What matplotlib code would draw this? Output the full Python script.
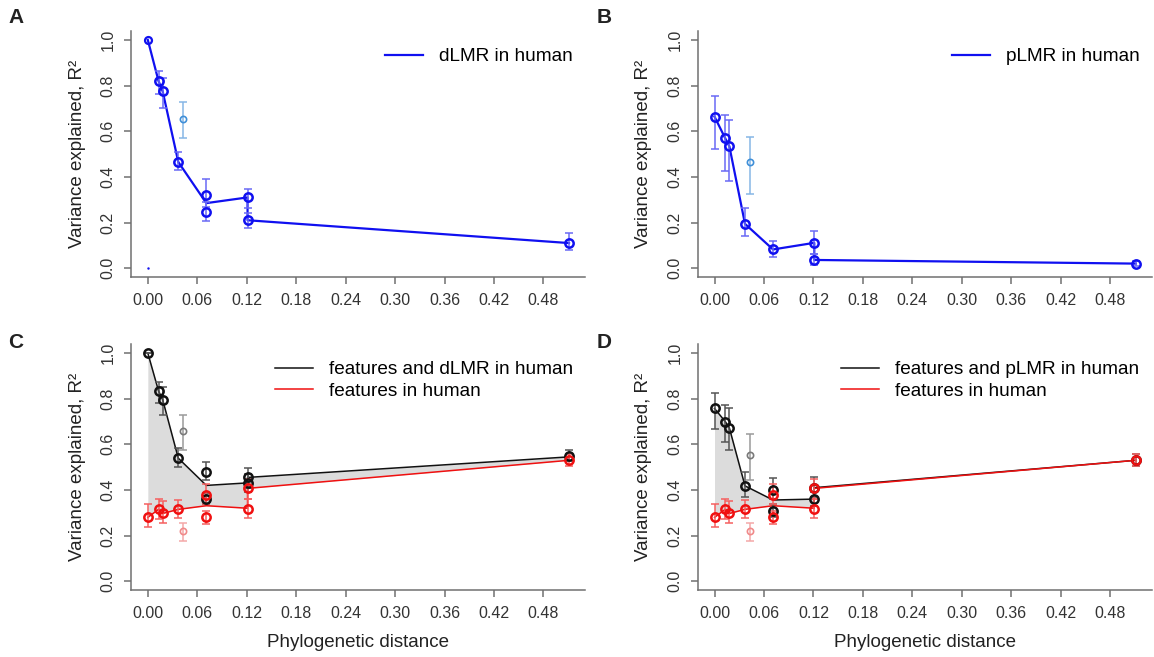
import numpy as np
import matplotlib
matplotlib.use("Agg")
import matplotlib.pyplot as plt

plt.rcParams['font.family'] = ['Liberation Sans', 'DejaVu Sans']

# ---- data ----
# panel A: dLMR in human
a_x = [0.0, 0.013, 0.018, 0.037, 0.071, 0.071, 0.121, 0.121, 0.511]
a_y = [1.0, 0.82, 0.775, 0.465, 0.32, 0.245, 0.31, 0.21, 0.11]
a_lo = [1.0, 0.765, 0.70, 0.43, 0.27, 0.205, 0.265, 0.175, 0.08]
a_hi = [1.0, 0.865, 0.835, 0.51, 0.39, 0.29, 0.345, 0.24, 0.155]
a_line_x = [0.0, 0.013, 0.018, 0.037, 0.071, 0.121, 0.121, 0.511]
a_line_y = [1.0, 0.82, 0.775, 0.465, 0.285, 0.31, 0.21, 0.11]
a_out = [0.043, 0.655, 0.57, 0.73]   # x, y, lo, hi

# panel B: pLMR in human
b_x = [0.0, 0.013, 0.018, 0.037, 0.071, 0.121, 0.121, 0.511]
b_y = [0.664, 0.569, 0.534, 0.194, 0.082, 0.111, 0.036, 0.02]
b_lo = [0.52, 0.424, 0.38, 0.139, 0.048, 0.061, 0.013, 0.008]
b_hi = [0.756, 0.672, 0.649, 0.263, 0.121, 0.161, 0.061, 0.032]
b_out = [0.043, 0.464, 0.326, 0.573]

# panel C: features and dLMR in human
c_x = [0.0, 0.013, 0.018, 0.037, 0.071, 0.071, 0.121, 0.121, 0.511]
c_y = [1.0, 0.834, 0.796, 0.539, 0.48, 0.359, 0.431, 0.455, 0.548]
c_lo = [1.0, 0.779, 0.729, 0.499, 0.443, 0.338, 0.392, 0.41, 0.525]
c_hi = [1.0, 0.875, 0.851, 0.586, 0.523, 0.385, 0.47, 0.496, 0.575]
c_line_y = [1.0, 0.834, 0.796, 0.539, 0.42, 0.431, 0.455, 0.545]
c_out = [0.043, 0.659, 0.574, 0.729]

# panel D: features and pLMR in human
d_y = [0.757, 0.70, 0.672, 0.418, 0.402, 0.309, 0.36, 0.41, 0.53]
d_lo = [0.669, 0.611, 0.576, 0.369, 0.36, 0.28, 0.33, 0.37, 0.505]
d_hi = [0.824, 0.773, 0.758, 0.477, 0.453, 0.34, 0.39, 0.455, 0.558]
d_line_y = [0.757, 0.70, 0.672, 0.418, 0.356, 0.36, 0.41, 0.53]
d_out = [0.043, 0.553, 0.443, 0.646]

# features in human (C and D)
f_y = [0.28, 0.315, 0.297, 0.315, 0.379, 0.28, 0.316, 0.407, 0.53]
f_lo = [0.236, 0.273, 0.256, 0.276, 0.34, 0.25, 0.276, 0.36, 0.505]
f_hi = [0.337, 0.359, 0.353, 0.354, 0.426, 0.31, 0.36, 0.45, 0.558]
f_line_y = [0.28, 0.315, 0.297, 0.315, 0.331, 0.32, 0.407, 0.53]
f_out = [0.043, 0.221, 0.178, 0.254]

line_x = [0.0, 0.013, 0.018, 0.037, 0.071, 0.121, 0.121, 0.511]

xticks = np.arange(0, 0.49, 0.06)
yticks = np.arange(0, 1.01, 0.2)

BLUE = '#1010f0'
RED = '#f01010'
BLACK = '#111111'


def points(ax, x, y, lo, hi, col, barcol, ms=6, mew=1.8):
    x = np.asarray(x); y = np.asarray(y)
    err = [y - np.asarray(lo), np.asarray(hi) - y]
    ax.errorbar(x, y, yerr=err, fmt='none', ecolor=barcol, elinewidth=1.1,
                capsize=3.2, capthick=1.1, zorder=4)
    ax.plot(x, y, 'o', mfc='none', mec=col, ms=ms, mew=mew, zorder=5)


def outlier(ax, o, col, barcol):
    points(ax, [o[0]], [o[1]], [o[2]], [o[3]], col, barcol, ms=4.5, mew=1.2)


def style(ax, xlabel=False):
    ax.set_xlim(-0.0204, 0.5304)
    ax.set_ylim(-0.04, 1.04)
    for s in ['top', 'right']:
        ax.spines[s].set_visible(False)
    for s in ['left', 'bottom']:
        ax.spines[s].set_color('#707070')
        ax.spines[s].set_linewidth(1.1)
    ax.set_xticks(xticks)
    ax.set_xticklabels(['%.2f' % t for t in xticks])
    ax.set_yticks(yticks)
    ax.set_yticklabels(['%.1f' % t for t in yticks], rotation=90, va='center')
    ax.tick_params(direction='out', length=5, width=1.1, color='#707070',
                   labelcolor='#333333', labelsize=11.5, pad=6)
    ax.set_ylabel('Variance explained, R²', fontsize=13.5, color='#222222')
    ax.yaxis.set_label_coords(-0.1, 0.5)
    if xlabel:
        ax.set_xlabel('Phylogenetic distance', fontsize=13.5, color='#222222')
        ax.xaxis.set_label_coords(0.5, -0.175)
        ax.xaxis.label.set_va('top')


def legend(ax):
    ax.legend(loc='upper right', bbox_to_anchor=(1.0 + 5 / 454, 1.0), frameon=False,
              fontsize=13.7, handlelength=2.0, handletextpad=0.85,
              labelspacing=0.22, borderaxespad=0.5)


fig = plt.figure(figsize=(11.54, 6.57), dpi=100)
W, H = 454 / 1154, 246.5 / 657
axA = fig.add_axes([131 / 1154, 1 - 277.3 / 657, W, H])
axB = fig.add_axes([697.7 / 1154, 1 - 277.3 / 657, W, H])
axC = fig.add_axes([131 / 1154, 1 - 590.4 / 657, W, H])
axD = fig.add_axes([697.7 / 1154, 1 - 590.4 / 657, W, H])

# A
axA.plot(a_line_x, a_line_y, color=BLUE, lw=1.6, label='dLMR in human', zorder=3)
points(axA, a_x[1:], a_y[1:], a_lo[1:], a_hi[1:], BLUE, '#6a6af5')
axA.plot([a_x[0]], [a_y[0]], 'o', mfc='none', mec=BLUE, ms=5, mew=1.6, zorder=5)
axA.plot([0.0], [0.0], '.', color=BLUE, ms=1.5)
outlier(axA, a_out, '#3f8fd8', '#86b6e6')
style(axA)
legend(axA)

# B
axB.plot(b_x, b_y, color=BLUE, lw=1.6, label='pLMR in human', zorder=3)
points(axB, b_x, b_y, b_lo, b_hi, BLUE, '#6a6af5')
outlier(axB, b_out, '#3f8fd8', '#86b6e6')
style(axB)
legend(axB)

# C
axC.fill_between(line_x, c_line_y, f_line_y, color='#dcdcdc', lw=0, zorder=1)
axC.plot(line_x, c_line_y, color=BLACK, lw=1.1, label='features and dLMR in human', zorder=3)
axC.plot(line_x, f_line_y, color=RED, lw=1.1, label='features in human', zorder=3)
points(axC, c_x, c_y, c_lo, c_hi, BLACK, '#555555')
points(axC, c_x, f_y, f_lo, f_hi, RED, '#f56060')
outlier(axC, c_out, '#7a7a7a', '#9a9a9a')
outlier(axC, f_out, '#f08a8a', '#f4a8a8')
style(axC, xlabel=True)
legend(axC)

# D
axD.fill_between(line_x, d_line_y, f_line_y, color='#dcdcdc', lw=0, zorder=1)
axD.plot(line_x, d_line_y, color=BLACK, lw=1.1, label='features and pLMR in human', zorder=3)
axD.plot(line_x, f_line_y, color=RED, lw=1.1, label='features in human', zorder=3)
points(axD, c_x, d_y, d_lo, d_hi, BLACK, '#555555')
points(axD, c_x, f_y, f_lo, f_hi, RED, '#f56060')
outlier(axD, d_out, '#7a7a7a', '#9a9a9a')
outlier(axD, f_out, '#f08a8a', '#f4a8a8')
style(axD, xlabel=True)
legend(axD)

for lab, px, py in [('A', 8, 8), ('B', 597, 8), ('C', 8, 333), ('D', 597, 333)]:
    fig.text(px / 1154, 1 - py / 657, lab, fontsize=15, fontweight='bold',
             va='top', ha='left', color='#222222')

fig.savefig('out.png', dpi=100)
